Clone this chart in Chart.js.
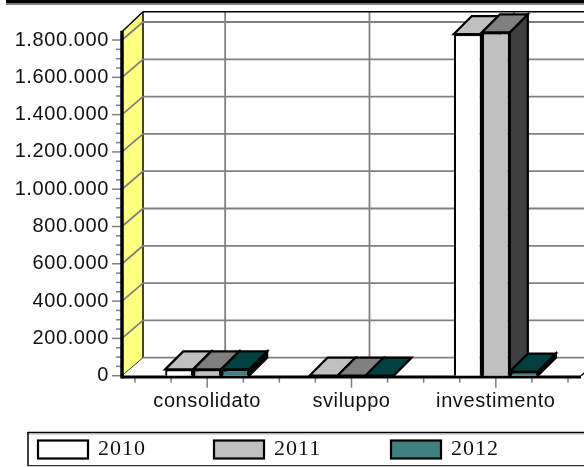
<!DOCTYPE html>
<html>
<head>
<meta charset="utf-8">
<title>Grafico</title>
<script src="https://cdn.jsdelivr.net/npm/chart.js@4"></script>
<style>
  html, body { margin: 0; padding: 0; background: #fff; overflow: hidden; }
  canvas { display: block; }
</style>
</head>
<body>
<canvas id="barChart" width="584" height="467"></canvas>
<script>
// values
var categories = ['consolidato', 'sviluppo', 'investimento'];
var years = ['2010', '2011', '2012'];
var values2010 = [34000, 0, 1832000];
var values2011 = [34000, 0, 1841000];
var values2012 = [34000, 0, 22000];
var yTicks = [0, 200000, 400000, 600000, 800000, 1000000, 1200000, 1400000, 1600000, 1800000];

// front / top / side colour of each year
var frontColors = ['#ffffff', '#c0c0c0', '#408080'];
var topColors = ['#c0c0c0', '#808080', '#004040'];
var sideColors = ['#808080', '#404040', '#000000'];

var GREY = '#808080';
var BAR_DEPTH = 18;
var WALL_DX = 21;
var WALL_DY = 18;
var AXIS_PAD = 13; // axis runs a bit past the outer categories

function formatThousands(v) {
    return String(v).replace(/\B(?=(\d{3})+$)/g, '.');
}

function poly(ctx, pts, fill, stroke, lw) {
    ctx.beginPath();
    pts.forEach(function (p, i) {
        if (i === 0) ctx.moveTo(p[0], p[1]);
        else ctx.lineTo(p[0], p[1]);
    });
    ctx.closePath();
    if (fill) { ctx.fillStyle = fill; ctx.fill(); }
    if (stroke) { ctx.strokeStyle = stroke; ctx.lineWidth = lw; ctx.lineJoin = 'miter'; ctx.stroke(); }
}

function line(ctx, x1, y1, x2, y2, color, lw) {
    ctx.beginPath();
    ctx.moveTo(x1, y1);
    ctx.lineTo(x2, y2);
    ctx.strokeStyle = color;
    ctx.lineWidth = lw;
    ctx.stroke();
}

// walls, floor, grid and axis ticks, then the depth faces of the bars
var box3d = {
    id: 'box3d',
    beforeDraw: function (chart) {
        chart.ctx.letterSpacing = '0.6px';
    },
    beforeDatasetsDraw: function (chart) {
        var ctx = chart.ctx;
        var x = chart.scales.x, y = chart.scales.y;
        var area = chart.chartArea;
        var left = area.left - AXIS_PAD, right = area.right + AXIS_PAD;
        var top = area.top, bottom = area.bottom;

        ctx.save();
        // frame line along the top edge
        line(ctx, 6, 4.5, 584, 4.5, GREY, 1);
        line(ctx, 6, 1.8, 584, 1.8, '#000', 3.6);

        // side wall
        poly(ctx, [[left, top + 1], [left + WALL_DX, top - WALL_DY - 1], [left + WALL_DX, bottom - WALL_DY], [left, bottom]], '#ffff80');
        line(ctx, left + WALL_DX, top - WALL_DY - 1, left + WALL_DX, bottom - WALL_DY, '#000', 1.5);
        line(ctx, left, top + 1, left + WALL_DX, top - WALL_DY - 1, '#000', 1.5);

        // value grid, over the wall and along the back
        yTicks.forEach(function (v) {
            if (v === 0) return;
            var py = y.getPixelForValue(v);
            line(ctx, left, py, left + WALL_DX, py - WALL_DY, GREY, 1.8);
            line(ctx, left + WALL_DX, py - WALL_DY, 584, py - WALL_DY, GREY, 1.8);
        });
        // category grid on the back plane
        categories.forEach(function (c, i) {
            var px = x.getPixelForValue(i) + BAR_DEPTH;
            line(ctx, px, top - WALL_DY - 1, px, bottom - WALL_DY, GREY, 1.8);
        });
        // back wall top edge and floor
        line(ctx, left + WALL_DX, top - WALL_DY - 1, 584, top - WALL_DY - 1, '#000', 1.5);
        line(ctx, left + WALL_DX, bottom - WALL_DY, 584, bottom - WALL_DY, GREY, 1.8);
        line(ctx, left, bottom, left + WALL_DX, bottom - WALL_DY, '#404040', 1);
        line(ctx, right, bottom, right + WALL_DX, bottom - WALL_DY, '#000', 1.5);

        // y ticks
        for (var v = 0; v <= 1800000; v += 50000) {
            var ty = y.getPixelForValue(v);
            line(ctx, v % 200000 === 0 ? 112 : 116, ty, left, ty, GREY, 1.5);
        }
        // x ticks, four per category
        for (var q = 0; q <= categories.length * 4; q++) {
            var tx = x.getPixelForValue(q / 4 - 0.5);
            line(ctx, tx, bottom + 1, tx, bottom + (q % 4 === 2 ? 12 : 7), GREY, 1.5);
        }

        // main axis lines
        line(ctx, left, top, left, bottom + 2.8, '#000', 3.5);
        line(ctx, left, bottom + 1.2, right, bottom + 1.2, '#000', 3);

        // bar depth, left to right so each group overlaps correctly
        chart.data.datasets.forEach(function (ds, d) {
            chart.getDatasetMeta(d).data.forEach(function (bar) {
                var l = bar.x - bar.width / 2, r = bar.x + bar.width / 2;
                var t = bar.y, b = bar.base;
                poly(ctx, [[r, t], [r + BAR_DEPTH, t - BAR_DEPTH], [r + BAR_DEPTH, b - BAR_DEPTH], [r, b]], sideColors[d], '#000', 2.2);
                poly(ctx, [[l, t], [l + BAR_DEPTH, t - BAR_DEPTH], [r + BAR_DEPTH, t - BAR_DEPTH], [r, t]], topColors[d], '#000', 2.2);
            });
        });
        ctx.restore();
    },
    afterDraw: function (chart) {
        var ctx = chart.ctx;
        ctx.save();
        // legend strip
        line(ctx, 27.5, 432.5, 584, 432.5, '#000', 1.5);
        line(ctx, 27.5, 434, 584, 434, '#aaa', 1);
        line(ctx, 28, 432, 28, 466, '#000', 1.5);
        line(ctx, 27.5, 465.7, 584, 465.7, '#333', 1.2);

        var swatchX = [38, 214, 391];
        ctx.letterSpacing = '1px';
        ctx.font = '22px "Liberation Serif"';
        ctx.textBaseline = 'middle';
        ctx.textAlign = 'left';
        years.forEach(function (year, i) {
            ctx.fillStyle = frontColors[i];
            ctx.fillRect(swatchX[i], 440.5, 50, 18);
            ctx.strokeStyle = '#000';
            ctx.lineWidth = 2.2;
            ctx.strokeRect(swatchX[i], 440.5, 50, 18);
            ctx.fillStyle = '#111';
            ctx.fillText(year, swatchX[i] + 60, 449.5);
        });
        ctx.restore();
    }
};

function barDataset(label, data, i) {
    return {
        label: label,
        data: data,
        backgroundColor: frontColors[i],
        borderColor: '#000',
        borderWidth: 2.2,
        borderSkipped: 'bottom',
        categoryPercentage: 0.582,
        barPercentage: 1
    };
}

var ctx = document.getElementById('barChart').getContext('2d');
var chart = new Chart(ctx, {
    type: 'bar',
    data: {
        labels: categories,
        datasets: [
            barDataset(years[0], values2010, 0),
            barDataset(years[1], values2011, 1),
            barDataset(years[2], values2012, 2)
        ]
    },
    options: {
        responsive: false,
        animation: false,
        layout: { padding: { top: 30.7, right: 16, bottom: 0, left: 0 } },
        plugins: {
            legend: { display: false },
            tooltip: { enabled: false }
        },
        scales: {
            x: {
                grid: { display: false },
                border: { display: false },
                afterFit: function (scale) { scale.height = 91.3; },
                ticks: {
                    color: '#111',
                    padding: 6,
                    maxRotation: 0,
                    autoSkip: false,
                    font: { family: '"Liberation Sans"', size: 20 }
                }
            },
            y: {
                min: 0,
                max: 1850000,
                grid: { display: false, drawTicks: false },
                border: { display: false },
                afterFit: function (scale) {
                    scale.width = 135;
                    scale.paddingTop = 0;
                    scale.paddingBottom = 0;
                },
                afterBuildTicks: function (scale) {
                    scale.ticks = yTicks.map(function (v) { return { value: v }; });
                },
                ticks: {
                    color: '#111',
                    padding: 26,
                    autoSkip: false,
                    font: { family: '"Liberation Sans"', size: 20 },
                    callback: function (v) { return formatThousands(v); }
                }
            }
        }
    },
    plugins: [box3d]
});
</script>
</body>
</html>
